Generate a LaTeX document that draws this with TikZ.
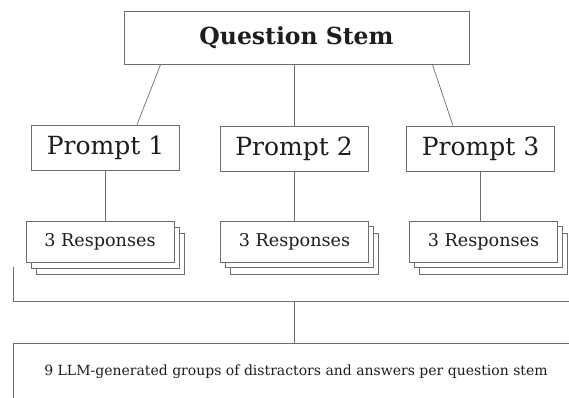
\documentclass[tikz,border=0pt]{standalone}
\usepackage{fontspec}
\setmainfont{DejaVu Serif}
\usepackage{xcolor}
\usetikzlibrary{shadows,calc}
\definecolor{edgegray}{RGB}{110,110,110}
\definecolor{inkgray}{RGB}{30,30,30}

\begin{document}
\begin{tikzpicture}[x=1pt, y=-1pt,
  box/.style={draw=edgegray, fill=white, line width=0.7pt, text=inkgray, inner sep=0pt},
  stembox/.style={box, minimum width=345pt, minimum height=53pt, font=\fontsize{23.5}{26}\selectfont\bfseries},
  promptbox/.style={box, minimum width=148pt, minimum height=45pt, font=\fontsize{25}{28}\selectfont},
  respbox/.style={box, minimum width=148pt, minimum height=41pt, font=\fontsize{17.6}{20}\selectfont,
    copy shadow={shadow xshift=10pt, shadow yshift=-12pt, draw=edgegray, line width=0.7pt},
    copy shadow={shadow xshift=5pt, shadow yshift=-5.5pt, draw=edgegray, line width=0.7pt}},
  link/.style={draw=edgegray, line width=0.7pt},
]
  \useasboundingbox (0,0) rectangle (569,398);
  \clip (0,0) rectangle (569,398);

  % top of the tree
  \node[stembox] (stem) at (296.5,37.5) {Question Stem};

  % prompts
  \node[promptbox] (p1) at (105.5,147.5) {Prompt 1};
  \node[promptbox] (p2) at (294,148.5) {Prompt 2};
  \node[promptbox] (p3) at (480.5,148.5) {Prompt 3};

  % responses (stacked)
  \node[respbox] (r1) at (100,242) {3 Responses};
  \node[respbox] (r2) at (294.5,241.5) {3 Responses};
  \node[respbox] (r3) at (483.5,241.5) {3 Responses};

  % stem to prompts
  \draw[link] ([xshift=37pt]stem.south west) -- ([xshift=31.5pt]p1.north);
  \draw[link] (stem.south -| p2.north) -- (p2.north);
  \draw[link] ([xshift=-37pt]stem.south east) -- ([xshift=-27.5pt]p3.north);

  % prompts to responses
  \foreach \k in {1,2,3}{
    \draw[link] (p\k.south) -- (p\k.south |- r\k.north);
  }

  % bracket and summary
  \coordinate (brleft) at (13,267);
  \coordinate (brcorner) at (13,301);
  \coordinate (brright) at (580,301);
  \coordinate (brjoin) at (294,301);
  \coordinate (sumtop) at (294,343);
  \draw[link] (brleft) -- (brcorner) -- (brright);
  \draw[link] (brjoin) -- (sumtop);

  \draw[link] (13,343) rectangle (590,410);
  \node[text=inkgray, font=\fontsize{14}{17}\selectfont] (summary) at (296,372)
    {9 LLM-generated groups of distractors and answers per question stem};
\end{tikzpicture}
\end{document}
